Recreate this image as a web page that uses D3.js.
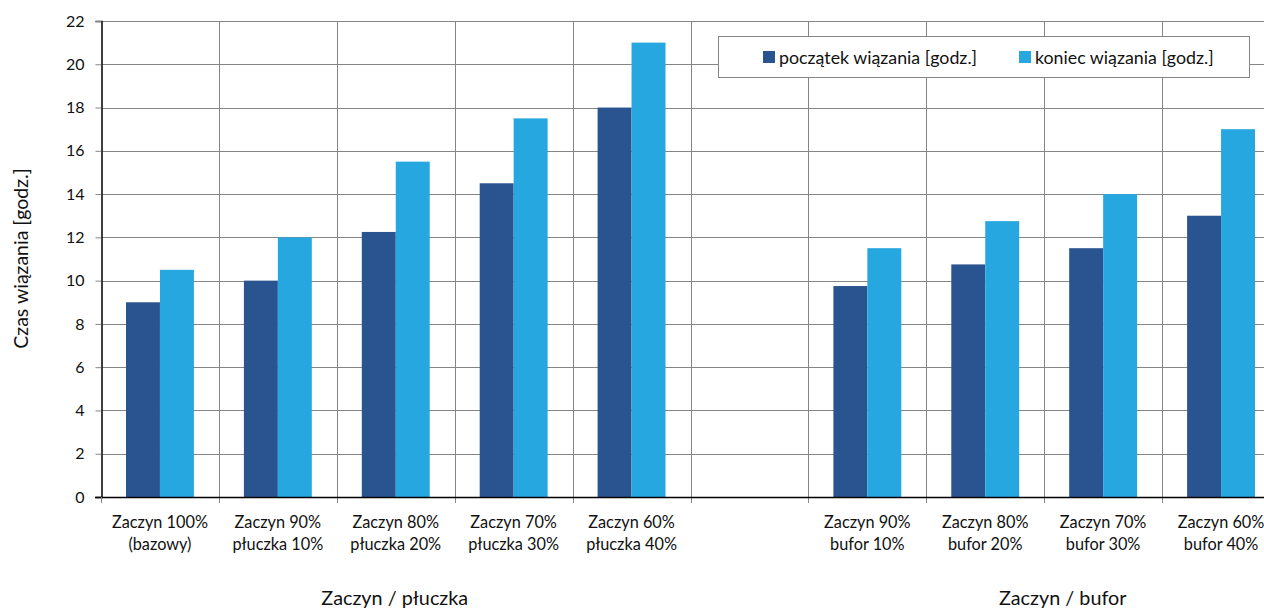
<!DOCTYPE html>
<html>
<head>
<meta charset="utf-8">
<script src="https://cdn.jsdelivr.net/npm/d3@7"></script>
<style>
  html, body { margin: 0; padding: 0; background: #fff; overflow: hidden; }
  svg { display: block; font-family: Lato, "Liberation Sans", sans-serif; }
</style>
</head>
<body>
<svg id="chart" width="1264" height="608"></svg>
<script>
// ---- data ----
const categories = [
  ["Zaczyn 100%", "(bazowy)"],
  ["Zaczyn 90%", "płuczka 10%"],
  ["Zaczyn 80%", "płuczka 20%"],
  ["Zaczyn 70%", "płuczka 30%"],
  ["Zaczyn 60%", "płuczka 40%"],
  ["", ""],
  ["Zaczyn 90%", "bufor 10%"],
  ["Zaczyn 80%", "bufor 20%"],
  ["Zaczyn 70%", "bufor 30%"],
  ["Zaczyn 60%", "bufor 40%"]
];
const seriesNames = ["początek wiązania [godz.]", "koniec wiązania [godz.]"];
const poczatek = [9, 10, 12.25, 14.5, 18, null, 9.75, 10.75, 11.5, 13];
const koniec   = [10.5, 12, 15.5, 17.5, 21, null, 11.5, 12.75, 14, 17];
const yTicks = [0, 2, 4, 6, 8, 10, 12, 14, 16, 18, 20, 22];
const groupTitles = ["Zaczyn / płuczka", "Zaczyn / bufor"];
const yTitle = "Czas wiązania [godz.]";

// ---- layout ----
const colors = ["#2A5490", "#27A7E0"];
const pLeft = 101, pRight = 1280, pTop = 21, pBottom = 497;
const svg = d3.select("#chart");

const x = d3.scaleBand().domain(d3.range(categories.length)).range([pLeft, pRight]).padding(0);
const slot = x.bandwidth();
const x1 = d3.scaleBand().domain([0, 1]).range([slot * 0.212, slot * 0.788]).padding(0);
const y = d3.scaleLinear().domain([0, 22]).range([pBottom, pTop]);

// horizontal gridlines
svg.append("g").selectAll("line").data(yTicks.filter(d => d > 0)).join("line")
  .attr("x1", pLeft).attr("x2", pRight)
  .attr("y1", d => Math.round(y(d)) + 0.5).attr("y2", d => Math.round(y(d)) + 0.5)
  .attr("stroke", "#858585").attr("stroke-width", 1);

// vertical gridlines (category boundaries)
const bounds = d3.range(1, categories.length + 1).map(i => pLeft + i * slot);
svg.append("g").selectAll("line").data(bounds).join("line")
  .attr("x1", d => Math.round(d) + 0.5).attr("x2", d => Math.round(d) + 0.5)
  .attr("y1", pTop).attr("y2", pBottom + 6)
  .attr("stroke", "#858585").attr("stroke-width", 1);

// bars
const seriesData = [poczatek, koniec];
seriesData.forEach((vals, si) => {
  svg.append("g").selectAll("rect").data(vals.map((v, i) => ({v, i})).filter(d => d.v != null)).join("rect")
    .attr("x", d => x(d.i) + x1(si))
    .attr("width", x1.bandwidth())
    .attr("y", d => y(d.v))
    .attr("height", d => y(0) - y(d.v))
    .attr("fill", colors[si]);
});

// y axis
const yAxis = d3.axisLeft(y).tickValues(yTicks).tickSize(6).tickPadding(11).tickFormat(d3.format("d"));
const yg = svg.append("g").attr("transform", `translate(${pLeft + 0.5},0)`).call(yAxis);
yg.select(".domain").attr("stroke", "#000").attr("stroke-width", 1.5);
yg.selectAll(".tick line").attr("stroke", "#858585");
yg.selectAll(".tick text").attr("font-size", 16).attr("fill", "#111").attr("font-family", "Lato, sans-serif");

// x axis line
svg.append("line").attr("x1", pLeft - 6).attr("x2", pRight).attr("y1", pBottom + 0.5).attr("y2", pBottom + 0.5)
  .attr("stroke", "#000").attr("stroke-width", 1.5);
svg.append("line").attr("x1", pLeft + 0.5).attr("x2", pLeft + 0.5).attr("y1", pBottom).attr("y2", pBottom + 6)
  .attr("stroke", "#858585");

// category labels
const cl = svg.append("g").selectAll("text").data(categories).join("text")
  .attr("text-anchor", "middle").attr("font-size", 16.3).attr("fill", "#111")
  .attr("x", (d, i) => x(i) + slot / 2);
cl.append("tspan").attr("x", (d, i) => x(i) + slot / 2).attr("y", 528).text(d => d[0]);
cl.append("tspan").attr("x", (d, i) => x(i) + slot / 2).attr("y", 550).text(d => d[1]);

// group titles
svg.append("text").attr("x", (x(0) + x(4) + slot) / 2 - 1).attr("y", 605)
  .attr("text-anchor", "middle").attr("font-size", 19.8).attr("fill", "#111").text(groupTitles[0]);
svg.append("text").attr("x", (x(6) + x(9) + slot) / 2 + 18.5).attr("y", 605)
  .attr("text-anchor", "middle").attr("font-size", 19.8).attr("fill", "#111").text(groupTitles[1]);

// y title
svg.append("text").attr("transform", `translate(28,258.5) rotate(-90)`)
  .attr("text-anchor", "middle").attr("font-size", 19.5).attr("fill", "#111").text(yTitle);

// legend
const lg = svg.append("g");
lg.append("rect").attr("x", 718.5).attr("y", 36.5).attr("width", 531).attr("height", 41)
  .attr("fill", "#fff").attr("stroke", "#858585").attr("stroke-width", 1);
const legX = [763, 1019];
seriesNames.forEach((n, i) => {
  lg.append("rect").attr("x", legX[i]).attr("y", 51).attr("width", 12).attr("height", 12).attr("fill", colors[i]);
  lg.append("text").attr("x", legX[i] + 16).attr("y", 64).attr("font-size", 17.8).attr("fill", "#111").text(n);
});
</script>
</body>
</html>
